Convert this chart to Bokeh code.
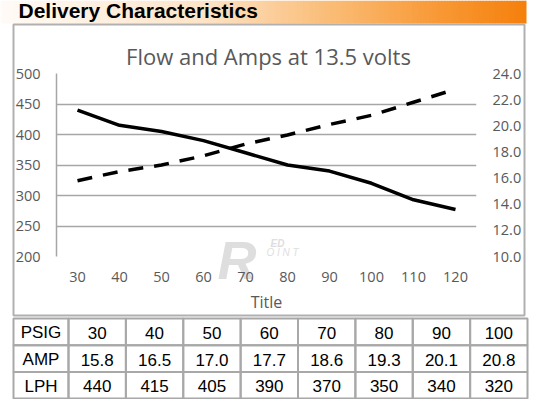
from bokeh.plotting import figure
from bokeh.models import (FactorRange, Range1d, LinearAxis, FixedTicker, NumeralTickFormatter,
                          GridBox)
from bokeh.core.properties import value
from bokeh.embed import file_html
from bokeh.resources import INLINE

# ---------------- data ----------------
x_labels = ["30", "40", "50", "60", "70", "80", "90", "100", "110", "120"]
lph_values = [440, 415, 405, 390, 370, 350, 340, 320, 293, 277]
amp_values = [15.8, 16.5, 17.0, 17.7, 18.6, 19.3, 20.1, 20.8, 21.8, 22.8]
left_ticks = [200, 250, 300, 350, 400, 450, 500]
right_ticks = [10, 12, 14, 16, 18, 20, 22, 24]

table_row_names = ["PSIG", "AMP", "LPH"]
table_psig = [30, 40, 50, 60, 70, 80, 90, 100]
table_amp = [15.8, 16.5, 17.0, 17.7, 18.6, 19.3, 20.1, 20.8]
table_lph = [440, 415, 405, 390, 370, 350, 340, 320]

header_text = "Delivery Characteristics"
chart_title = "Flow and Amps at 13.5 volts"
x_axis_title = "Title"

W, H = 539, 399
grey_txt = "#595959"
tick_font = "Open Sans"

# ================= background / decoration figure =================
d = figure(width=W, height=H, output_backend="svg", toolbar_location=None,
           x_range=Range1d(0, W), y_range=Range1d(H, 0),
           x_axis_type=None, y_axis_type=None, min_border=0)
d.outline_line_color = None
d.grid.visible = False
d.background_fill_color = "white"
d.border_fill_color = "white"

# header gradient
stops = [(0, (255, 251, 247)), (200, (253, 228, 200)), (330, (250, 188, 118)),
         (440, (248, 152, 52)), (526, (245, 128, 12))]
def grad(x):
    for (x0, c0), (x1, c1) in zip(stops[:-1], stops[1:]):
        if x0 <= x <= x1:
            t = (x - x0) / (x1 - x0)
            return "#%02x%02x%02x" % tuple(int(round(a + (b - a) * t)) for a, b in zip(c0, c1))
    return "#%02x%02x%02x" % stops[-1][1]

step = 3
gl, gr, gc = [], [], []
for x0 in range(0, 526, step):
    x1 = min(x0 + step, 526)
    gl.append(x0)
    gr.append(x1 + 0.5 if x1 < 526 else x1)
    gc.append(grad((x0 + x1) / 2))
d.quad(left=gl, right=gr, top=0, bottom=23, fill_color=gc, line_color=None)

d.text(x=[18], y=[10], text=[header_text], text_font=value("Liberation Sans"),
       text_font_style="bold", text_font_size="21px", text_color="black",
       text_baseline="middle", text_align="left")

# watermark (approximation of the logo), under the chart
wm = "#dedede"
d.text(x=[217], y=[259], text=["R"], text_font=value("Liberation Sans"),
       text_font_style="bold italic", text_font_size="54px", text_color=wm,
       text_baseline="middle")
d.text(x=[270], y=[243], text=["ED"], text_font=value("Liberation Sans"),
       text_font_style="bold italic", text_font_size="10px", text_color=wm,
       text_baseline="middle")
d.text(x=[266], y=[252], text=["O  I  N  T"], text_font=value("Liberation Sans"),
       text_font_style="italic", text_font_size="10px", text_color=wm,
       text_baseline="middle")

# chart box border
d.quad(left=[13], right=[524], top=[24], bottom=[315], fill_color=None,
       line_color="#b0b0b0", line_width=2)

# chart title
d.text(x=[268], y=[55], text=[chart_title], text_font=value("Open Sans"),
       text_font_size="22px", text_color=grey_txt,
       text_baseline="middle", text_align="center")

# table
t_left, t_first, t_right = 13, 68, 527
t_top, row_h = 318, 26.7
ncol = len(table_psig)
col_w = (t_right - t_first) / ncol
rows = [
    [str(v) for v in table_psig],
    ["%.1f" % v for v in table_amp],
    [str(v) for v in table_lph],
]
cl, cr, ct, cb, tx, ty, tt = [], [], [], [], [], [], []
for ri, (name, vals) in enumerate(zip(table_row_names, rows)):
    top = t_top + ri * row_h
    bot = top + row_h
    cells = [(t_left, t_first, name)] + [
        (t_first + ci * col_w, t_first + (ci + 1) * col_w, v) for ci, v in enumerate(vals)]
    for l, r, txt in cells:
        cl.append(l); cr.append(r); ct.append(top); cb.append(bot)
        tx.append((l + r) / 2); ty.append((top + bot) / 2 + 1); tt.append(txt)
d.quad(left=cl, right=cr, top=ct, bottom=cb, fill_color=None,
       line_color="#a8a8a8", line_width=2)
d.text(x=tx, y=ty, text=tt, text_font=value("Liberation Sans"), text_font_size="17px",
       text_color="black", text_align="center", text_baseline="middle")

# ================= chart figure (overlaid, transparent) =================
p = figure(width=W, height=H, output_backend="svg", toolbar_location=None,
           x_range=FactorRange(factors=x_labels, range_padding=0),
           y_range=Range1d(200, 500))
p.min_border_left = 56
p.min_border_right = 63
p.min_border_top = 73
p.min_border_bottom = 143
p.outline_line_color = None
p.background_fill_color = None
p.border_fill_color = None

p.extra_y_ranges = {"amp": Range1d(10, 24)}

ya = p.yaxis[0]
ya.ticker = FixedTicker(ticks=left_ticks)
ya.axis_line_color = "#a6a6a6"
ya.axis_line_width = 1.5
ya.major_tick_line_color = None
ya.minor_tick_line_color = None
ya.major_tick_out = 0
ya.major_tick_in = 0
ya.major_label_standoff = 16
ya.major_label_text_font = tick_font
ya.major_label_text_font_size = "14.5px"
ya.major_label_text_color = grey_txt

ra = LinearAxis(y_range_name="amp", ticker=FixedTicker(ticks=right_ticks),
                formatter=NumeralTickFormatter(format="0.0"))
ra.axis_line_color = None
ra.major_tick_line_color = None
ra.minor_tick_line_color = None
ra.major_tick_out = 0
ra.major_tick_in = 0
ra.major_label_standoff = 16
ra.major_label_text_font = tick_font
ra.major_label_text_font_size = "14.5px"
ra.major_label_text_color = grey_txt
p.add_layout(ra, "right")

xa = p.xaxis[0]
xa.axis_line_color = None
xa.major_tick_line_color = None
xa.minor_tick_line_color = None
xa.major_tick_out = 0
xa.major_tick_in = 0
xa.major_label_standoff = 15
xa.major_label_text_font = tick_font
xa.major_label_text_font_size = "14.5px"
xa.major_label_text_color = grey_txt
xa.axis_label = x_axis_title
xa.axis_label_text_font = tick_font
xa.axis_label_text_font_style = "normal"
xa.axis_label_text_font_size = "16px"
xa.axis_label_text_color = grey_txt
xa.axis_label_standoff = 6

p.xgrid.grid_line_color = None
p.ygrid.grid_line_color = "#a6a6a6"
p.ygrid.grid_line_width = 1.5
p.ygrid.ticker = FixedTicker(ticks=left_ticks)

p.line(x=x_labels, y=lph_values, line_color="black", line_width=3.5)
p.line(x=x_labels, y=amp_values, y_range_name="amp", line_color="black",
       line_width=3.5, line_dash="15 11")

# keep each figure's plotting area independent when overlaid
for f in (d, p):
    if "frame_align" in f.properties():
        f.frame_align = False

layout = GridBox(children=[(d, 0, 0), (p, 0, 0)])

open("out.html", "w").write(file_html(layout, INLINE))
